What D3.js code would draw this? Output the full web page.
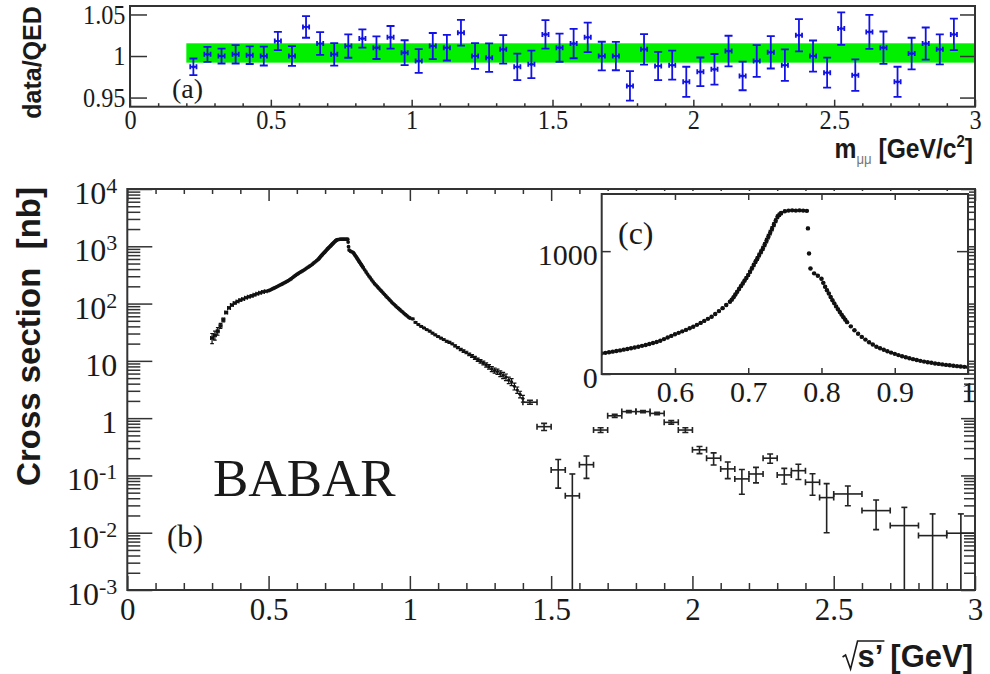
<!DOCTYPE html>
<html>
<head>
<meta charset="utf-8">
<style>
  body { margin: 0; background: #fff; }
  text { fill: #1a1a1a; }
  .serif { font-family: "Liberation Serif", "Times New Roman", serif; }
  .sans { font-family: "Liberation Sans", Arial, sans-serif; font-weight: bold; }
</style>
<script src="https://d3js.org/d3.v7.min.js"></script>
</head>
<body>
<svg id="chart" width="990" height="674"></svg>
<script>
// ---------- data: (a) data/QED ratio ----------
var ratioX = [0.225,0.275,0.325,0.375,0.425,0.475,0.525,0.575,0.625,0.675,
              0.725,0.775,0.825,0.875,0.925,0.975,1.025,1.075,1.125,1.175,
              1.225,1.275,1.325,1.375,1.425,1.475,1.525,1.575,1.625,1.675,
              1.725,1.775,1.825,1.875,1.925,1.975,2.025,2.075,2.125,2.175,
              2.225,2.275,2.325,2.375,2.425,2.475,2.525,2.575,2.625,2.675,
              2.725,2.775,2.825,2.875,2.925];
var ratioY = [0.987,1.002,1.000,1.002,1.001,1.000,1.018,1.000,1.035,1.015,
              1.002,1.012,1.021,1.010,1.0225,1.004,0.994,1.012,1.010,1.028,
              1.000,0.998,1.008,0.987,0.990,1.026,1.010,1.015,1.0225,1.000,
              1.000,0.964,1.008,0.988,0.989,0.969,0.981,0.984,1.006,0.976,
              0.994,1.0045,0.989,1.025,1.000,0.980,1.033,0.977,1.029,1.010,
              0.969,1.003,1.015,1.008,1.026];
var ratioErr = [0.010,0.009,0.009,0.011,0.0106,0.0114,0.011,0.0118,0.013,0.0137,
                0.0136,0.0141,0.011,0.0136,0.0136,0.015,0.0142,0.0157,0.0154,0.0154,
                0.0154,0.0171,0.0171,0.016,0.0165,0.0171,0.0169,0.0177,0.0177,0.0172,
                0.0171,0.0177,0.0184,0.0171,0.0175,0.0181,0.0172,0.0184,0.0184,0.0172,
                0.019,0.0195,0.019,0.0195,0.0187,0.0181,0.0195,0.019,0.0205,0.0195,
                0.0181,0.019,0.0193,0.0181,0.019];
var ratioXErr = 0.011;
var bandX = [0.2, 3.0];
var bandY = [0.992, 1.0153];

// ---------- data: (b) cross section, threshold region ----------
var lowX = [0.30,0.31,0.32,0.33,0.34,0.35,0.36,0.37,0.38,0.39,
            0.40,0.41,0.42,0.43,0.44,0.45,0.46,0.47,0.48,0.49];
var lowY = [25,28,33,41,52,70,84,94,102,109,115,120,126,131,136,142,148,154,160,164];
var lowErr = [5,5,5,4,4,3,2,2,2,2,2,2,2,2,2,2,2,2,2,2];

// ---------- data: (b)/(c) rho region ----------
var rhoX = [0.500,0.505,0.510,0.515,0.520,0.525,0.530,0.535,0.540,0.545,
            0.550,0.555,0.560,0.565,0.570,0.575,0.580,0.585,0.590,0.595,
            0.600,0.605,0.610,0.615,0.620,0.625,0.630,0.635,0.640,0.645,
            0.650,0.655,0.660,0.665,0.670,
            0.675,0.6775,0.680,0.6825,0.685,0.6875,0.690,0.6925,0.695,0.6975,
            0.700,0.7025,0.705,0.7075,0.710,0.7125,0.715,0.7175,0.720,0.7225,
            0.725,0.7275,0.730,0.7325,0.735,0.7375,0.740,0.7425,0.745,
            0.750,0.755,0.760,0.765,0.770,0.775,0.780,0.7815,0.783,0.785,0.790,0.795,
            0.800,0.8025,0.805,0.8075,0.810,0.8125,0.815,0.8175,0.820,0.8225,
            0.825,0.8275,0.830,0.8325,0.835,
            0.840,0.845,0.850,0.855,0.860,0.865,0.870,0.875,0.880,0.885,
            0.890,0.895,0.900,0.905,0.910,0.915,0.920,0.925,0.930,0.935,
            0.940,0.945,0.950,0.955,0.960,0.965,0.970,0.975,0.980,0.985,
            0.990,0.995,1.000];
var rhoY = [168,172,177,182,187,192,198,204,210,216,
            222,229,236,244,252,261,271,284,297,310,
            323,335,347,359,372,385,400,416,432,449,
            466,488,512,536,561,
            588,605,625,647,670,692,715,737,760,782,
            805,832,860,888,915,941,968,995,1022,1053,
            1085,1118,1150,1183,1215,1248,1279,1296,1310,
            1325,1330,1332,1330,1332,1330,1328,1185,981,859,819,800,
            775,742,710,682,655,627,600,575,550,527,
            505,483,462,442,422,
            388,356,327,302,280,259,240,222,210,197,
            185,174,164,154,145,136,128,121,114,107,
            101,96,91,86,82,78,74,71,67,64,
            61,58,56];
var rhoErr = [3,3,3,3,3,3,3,3,3,3,
              3,3,3,3,3,3,3,3,3,3,
              3,4,4,4,4,5,5,5,5,5,
              6,6,6,6,7,
              7,7,7,8,8,8,8,9,9,10,
              10,11,12,13,14,15,15,16,16,17,
              18,18,18,17,16,15,15,13,12,
              6,6,6,6,6,6,6,8,4,6,6,6,
              6,6,6,6,5,5,5,5,5,5,
              5,5,5,5,4,
              4,4,4,4,4,4,4,4,4,3,
              3,3,3,3,3,3,3,3,3,3,
              3,3,3,3,3,3,3,3,3,3,
              3,3,3];

// ---------- data: (b) 1.0 - 1.4 GeV ----------
var highX = [1.01,1.02,1.03,1.04,1.05,1.06,1.07,1.08,1.09,1.10,
             1.11,1.12,1.13,1.14,1.15,1.16,1.17,1.18,1.19,1.20,
             1.21,1.22,1.23,1.24,1.25,1.26,1.27,1.28,1.29,1.30,
             1.31,1.32,1.33,1.34,1.35,1.36,1.37,1.38,1.39,1.40];
var highY = [54,47,43,40,37.5,35,33,30.5,28.5,26.5,
             25,23.5,22,21,19.8,18.3,17,15.8,14.8,14,
             13,12.2,11.3,10.5,9.8,9.2,8.5,7.9,7.2,6.8,
             6.5,6.0,5.6,5.2,4.6,4.3,3.6,3.1,2.6,2.2];
var highErr = [1.5,1.3,1.2,1.1,1.0,1.0,1.0,0.9,0.9,0.9,
               0.8,0.8,0.8,0.8,0.7,0.7,0.7,0.7,0.7,0.7,
               0.7,0.7,0.7,0.7,0.7,0.7,0.7,0.7,0.7,0.7,
               0.7,0.7,0.7,0.7,0.6,0.6,0.5,0.4,0.35,0.3];

// ---------- data: (b) cross section, wide bins ----------
var wideX = [1.425,1.475,1.525,1.575,1.625,1.675,1.725,1.775,1.825,1.875,
             1.925,1.975,2.025,2.075,2.125,2.175,2.225,2.275,2.325,2.375,
             2.425,2.475,2.55,2.65,2.75,2.85,2.95];
var wideHalf = [0.025,0.025,0.025,0.025,0.025,0.025,0.025,0.025,0.025,0.025,
                0.025,0.025,0.025,0.025,0.025,0.025,0.025,0.025,0.025,0.025,
                0.025,0.025,0.05,0.05,0.05,0.05,0.05];
var wideY = [1.9,0.71,0.125,0.044,0.154,0.62,1.1,1.3,1.3,1.21,
             0.845,0.62,0.28,0.20,0.13,0.087,0.106,0.20,0.102,0.121,
             0.076,0.041,0.0475,0.0243,0.0133,0.0089,0.0098];
var wideErr = [0.15,0.1,0.065,0.062,0.065,0.06,0.07,0.06,0.06,0.06,
               0.06,0.06,0.04,0.048,0.042,0.04,0.032,0.037,0.031,0.036,
               0.031,0.031,0.018,0.013,0.0144,0.0124,0.0115];

// ---------- tick labels ----------
var massTicks = [0, 0.5, 1, 1.5, 2, 2.5, 3];
var ratioTicks = [0.95, 1, 1.05];
var decadeExp = [-3, -2, -1, 0, 1, 2, 3, 4];
var insetXTicks = [0.6, 0.7, 0.8, 0.9, 1];
var insetYTicks = [0, 1000];

// ---------- build point tables ----------
function table(xs, ys, eys, exs) {
  return xs.map(function(x, i) {
    return {x: x, y: ys[i], ey: eys[i], ex: Array.isArray(exs) ? exs[i] : exs};
  });
}
var ratioPts = table(ratioX, ratioY, ratioErr, ratioXErr);
var lowPts = table(lowX, lowY, lowErr, 0.005);
var rhoPts = table(rhoX, rhoY, rhoErr, 0.0025);
var highPts = table(highX, highY, highErr, 0.005);
var widePts = table(wideX, wideY, wideErr, wideHalf);

var svg = d3.select("#chart");
svg.append("rect").attr("width", 990).attr("height", 674).attr("fill", "#fff");

var FRAME = "#333";

// ---------- scales ----------
var xa = d3.scaleLinear().domain([0, 3]).range([130, 975]);
var ya = d3.scaleLinear().domain([0.939, 1.0602]).range([106.7, 6]);
var xb = d3.scaleLinear().domain([0, 3]).range([127.3, 975]);
var yb = d3.scaleLog().domain([1e-3, 1e4]).range([590, 189]);
var xc = d3.scaleLinear().domain([0.5, 1]).range([601.7, 968]);
var yc = d3.scaleLinear().domain([0, 1465]).range([374, 194]);

function minorsOf(step, lo, hi, majors) {
  return d3.range(lo, hi + 1e-9, step).map(function(v) { return +v.toFixed(3); })
    .filter(function(v) { return majors.indexOf(v) < 0; });
}
var massMinor = minorsOf(0.1, 0, 3, massTicks);
var logMinor = [];
decadeExp.slice(0, -1).forEach(function(e) {
  for (var m = 2; m <= 9; m++) logMinor.push(m * +("1e" + e));
});

function styleAxis(g, size) {
  g.select(".domain").remove();
  g.selectAll("line").attr("stroke", FRAME).attr("stroke-width", 1.5);
  g.attr("font-family", "Liberation Serif, Times New Roman, serif").attr("font-size", size);
  g.selectAll("text").attr("fill", "#1a1a1a");
  return g;
}

// generic error-bar painter
function drawPoints(g, pts, xs, ys, o) {
  var bottom = ys.range()[0], top = ys.range()[1];
  function yp(v) {
    if (v <= 0) return bottom;
    return Math.max(top, Math.min(bottom, ys(v)));
  }
  var p = g.selectAll(null).data(pts).enter().append("g")
    .attr("stroke", o.color).attr("stroke-width", o.sw).attr("fill", o.color);
  p.append("line")
    .attr("x1", function(d) { return xs(d.x); }).attr("x2", function(d) { return xs(d.x); })
    .attr("y1", function(d) { return yp(d.y + d.ey); }).attr("y2", function(d) { return yp(d.y - d.ey); });
  p.append("line")
    .attr("x1", function(d) { return xs(d.x - d.ex); }).attr("x2", function(d) { return xs(d.x + d.ex); })
    .attr("y1", function(d) { return ys(d.y); }).attr("y2", function(d) { return ys(d.y); });
  if (o.capV) {
    p.append("path").attr("fill", "none").attr("d", function(d) {
      var x = xs(d.x), c = o.capV, s = "M" + (x - c) + "," + yp(d.y + d.ey) + "h" + 2 * c;
      if (d.y - d.ey > 0) s += "M" + (x - c) + "," + yp(d.y - d.ey) + "h" + 2 * c;
      return s;
    });
  }
  if (o.capH) {
    p.append("path").attr("fill", "none").attr("d", function(d) {
      var y = ys(d.y), c = o.capH;
      return "M" + xs(d.x - d.ex) + "," + (y - c) + "v" + 2 * c +
             "M" + xs(d.x + d.ex) + "," + (y - c) + "v" + 2 * c;
    });
  }
  if (o.r) {
    p.append("circle").attr("stroke", "none")
      .attr("cx", function(d) { return xs(d.x); })
      .attr("cy", function(d) { return ys(d.y); })
      .attr("r", o.r);
  }
}

// ================= panel (a) =================
var gA = svg.append("g");
gA.append("rect")
  .attr("x", xa(bandX[0])).attr("width", xa(bandX[1]) - xa(bandX[0]))
  .attr("y", ya(bandY[1])).attr("height", ya(bandY[0]) - ya(bandY[1]))
  .attr("fill", "#00f000");

var axA1 = gA.append("g").attr("transform", "translate(0," + ya.range()[0] + ")")
  .call(d3.axisBottom(xa).tickValues(massTicks).tickSize(-7).tickPadding(3).tickFormat(d3.format("")));
styleAxis(axA1, 27).selectAll("text").attr("transform", "scale(0.9,1)");
styleAxis(gA.append("g").attr("transform", "translate(0," + ya.range()[0] + ")")
  .call(d3.axisBottom(xa).tickValues(massMinor).tickSize(-3.5).tickFormat("")), 27);
var axA2 = gA.append("g").attr("transform", "translate(" + xa.range()[0] + ",0)")
  .call(d3.axisLeft(ya).tickValues(ratioTicks).tickSize(-17).tickPadding(5)
    .tickFormat(function(d) { return d === 1 ? "1" : d3.format(".2f")(d); }));
styleAxis(axA2, 27).selectAll("text").attr("transform", "scale(0.9,1)");
styleAxis(gA.append("g").attr("transform", "translate(" + xa.range()[1] + ",0)")
  .call(d3.axisRight(ya).tickValues(ratioTicks).tickSize(-15).tickFormat("")), 27);

drawPoints(gA, ratioPts, xa, ya, {color: "#1212e6", sw: 1.8, capV: 4, capH: 2.5, r: 1.6});

gA.append("rect").attr("x", xa.range()[0]).attr("y", ya.range()[1])
  .attr("width", xa.range()[1] - xa.range()[0]).attr("height", ya.range()[0] - ya.range()[1])
  .attr("fill", "none").attr("stroke", FRAME).attr("stroke-width", 2);

gA.append("text").attr("class", "serif").attr("font-size", 28)
  .attr("x", 172).attr("y", 98).text("(a)");

gA.append("text").attr("class", "sans").attr("font-size", 25)
  .attr("text-anchor", "middle").attr("transform", "translate(41,62.5) rotate(-90)")
  .text("data/QED");

var mLab = gA.append("g").attr("transform", "translate(973,158) scale(0.88,1)")
  .append("text").attr("class", "sans").attr("font-size", 28).attr("text-anchor", "end")
  .style("white-space", "pre");
mLab.append("tspan").text("m");
mLab.append("tspan").attr("font-size", 15).attr("font-weight", "normal").attr("dy", 6)
  .style("fill", "#777").text("\u03bc\u03bc");
mLab.append("tspan").attr("dy", -6).text(" [GeV/c");
mLab.append("tspan").attr("font-size", 17).attr("dy", -11).text("2");
mLab.append("tspan").attr("dy", 11).text("]");

// ================= panel (b) =================
var gB = svg.append("g");
var axB1 = gB.append("g").attr("transform", "translate(0," + yb.range()[0] + ")")
  .call(d3.axisBottom(xb).tickValues(massTicks).tickSize(-14).tickPadding(8).tickFormat(d3.format("")));
styleAxis(axB1, 31);
styleAxis(gB.append("g").attr("transform", "translate(0," + yb.range()[0] + ")")
  .call(d3.axisBottom(xb).tickValues(massMinor).tickSize(-7).tickFormat("")), 31);
styleAxis(gB.append("g").attr("transform", "translate(0," + yb.range()[1] + ")")
  .call(d3.axisTop(xb).tickValues(massTicks).tickSize(-12).tickFormat("")), 31);
styleAxis(gB.append("g").attr("transform", "translate(0," + yb.range()[1] + ")")
  .call(d3.axisTop(xb).tickValues(massMinor).tickSize(-5).tickFormat("")), 31);

var decades = decadeExp.map(function(e) { return +("1e" + e); });
styleAxis(gB.append("g").attr("transform", "translate(" + xb.range()[0] + ",0)")
  .call(d3.axisLeft(yb).tickValues(decades).tickSize(-25).tickFormat("")), 31);
styleAxis(gB.append("g").attr("transform", "translate(" + xb.range()[0] + ",0)")
  .call(d3.axisLeft(yb).tickValues(logMinor).tickSize(-13).tickFormat("")), 31);
styleAxis(gB.append("g").attr("transform", "translate(" + xb.range()[1] + ",0)")
  .call(d3.axisRight(yb).tickValues(decades).tickSize(-14).tickFormat("")), 31);
styleAxis(gB.append("g").attr("transform", "translate(" + xb.range()[1] + ",0)")
  .call(d3.axisRight(yb).tickValues(logMinor).tickSize(-11).tickFormat("")), 31);

var yLabs = gB.append("g").selectAll("text").data(decadeExp).enter().append("text")
  .attr("class", "serif").attr("font-size", 32).attr("text-anchor", "end")
  .attr("x", xb.range()[0] - 10)
  .attr("y", function(e) { return yb(+("1e" + e)) + 15; });
yLabs.each(function(e) {
  var t = d3.select(this);
  if (e === 0) t.text("1");
  else if (e === 1) t.text("10");
  else {
    t.append("tspan").text("10");
    t.append("tspan").attr("font-size", 22).attr("dy", -11).text(e);
  }
});

drawPoints(gB, lowPts, xb, yb, {color: "#111", sw: 1.2, capV: 1.8, capH: 2, r: 1.8});
drawPoints(gB, rhoPts, xb, yb, {color: "#111", sw: 1.2, capV: 0, capH: 0, r: 1.9});
drawPoints(gB, highPts, xb, yb, {color: "#111", sw: 1.2, capV: 2, capH: 0, r: 1.6});
drawPoints(gB, widePts, xb, yb, {color: "#222", sw: 1.6, capV: 3, capH: 3, r: 0});

gB.append("rect").attr("x", xb.range()[0]).attr("y", yb.range()[1])
  .attr("width", xb.range()[1] - xb.range()[0]).attr("height", yb.range()[0] - yb.range()[1])
  .attr("fill", "none").attr("stroke", FRAME).attr("stroke-width", 2);

gB.append("text").attr("class", "serif").attr("font-size", 31)
  .attr("x", 167).attr("y", 547).text("(b)");
gB.append("text").attr("class", "serif").attr("font-size", 53)
  .attr("x", 213).attr("y", 496).text("BABAR");

gB.append("text").attr("class", "sans").attr("font-size", 33)
  .attr("text-anchor", "middle").attr("transform", "translate(40,336.5) rotate(-90)")
  .style("white-space", "pre").text("Cross section  [nb]");

// x title with radical sign
var xt = gB.append("text").attr("class", "sans").attr("font-size", 31)
  .attr("x", 973).attr("y", 667).attr("text-anchor", "end")
  .style("white-space", "pre").text("s\u2019 [GeV]");
var tw = xt.node().getComputedTextLength();
var tmp = gB.append("text").attr("class", "sans").attr("font-size", 31).text("s\u2019");
var sw = tmp.node().getComputedTextLength();
tmp.remove();
var sx = 973 - tw;
gB.append("path").attr("fill", "none").attr("stroke", "#1a1a1a").attr("stroke-width", 1.6)
  .attr("d", "M" + (sx - 15) + ",657 l3,-2 l5,14 l7,-28 H" + (sx + sw + 1));

// ================= inset (c) =================
var gC = svg.append("g");
gC.append("rect").attr("x", 598).attr("y", 191).attr("width", 371).attr("height", 185).attr("fill", "#fff");
gC.append("clipPath").attr("id", "clipC").append("rect")
  .attr("x", xc.range()[0]).attr("y", yc.range()[1])
  .attr("width", xc.range()[1] - xc.range()[0]).attr("height", yc.range()[0] - yc.range()[1]);

var axC1 = gC.append("g").attr("transform", "translate(0," + yc.range()[0] + ")")
  .call(d3.axisBottom(xc).tickValues(insetXTicks).tickSize(-6).tickPadding(7).tickFormat(d3.format("")));
styleAxis(axC1, 30);
styleAxis(gC.append("g").attr("transform", "translate(0," + yc.range()[1] + ")")
  .call(d3.axisTop(xc).tickValues(insetXTicks).tickSize(-6).tickFormat("")), 30);
var axC2 = gC.append("g").attr("transform", "translate(" + xc.range()[0] + ",0)")
  .call(d3.axisLeft(yc).tickValues(insetYTicks).tickSize(-9).tickPadding(4).tickFormat(d3.format("d")));
styleAxis(axC2, 30).selectAll("text").attr("dy", "0.45em");
styleAxis(gC.append("g").attr("transform", "translate(" + xc.range()[1] + ",0)")
  .call(d3.axisRight(yc).tickValues([1000]).tickSize(-11).tickFormat("")), 30);

drawPoints(gC.append("g").attr("clip-path", "url(#clipC)"), rhoPts, xc, yc,
  {color: "#111", sw: 1.3, capV: 1.6, capH: 0, r: 2.2});

gC.append("rect").attr("x", xc.range()[0]).attr("y", yc.range()[1])
  .attr("width", xc.range()[1] - xc.range()[0]).attr("height", yc.range()[0] - yc.range()[1])
  .attr("fill", "none").attr("stroke", FRAME).attr("stroke-width", 2);

gC.append("text").attr("class", "serif").attr("font-size", 32)
  .attr("x", 618).attr("y", 244).text("(c)");
</script>
</body>
</html>
